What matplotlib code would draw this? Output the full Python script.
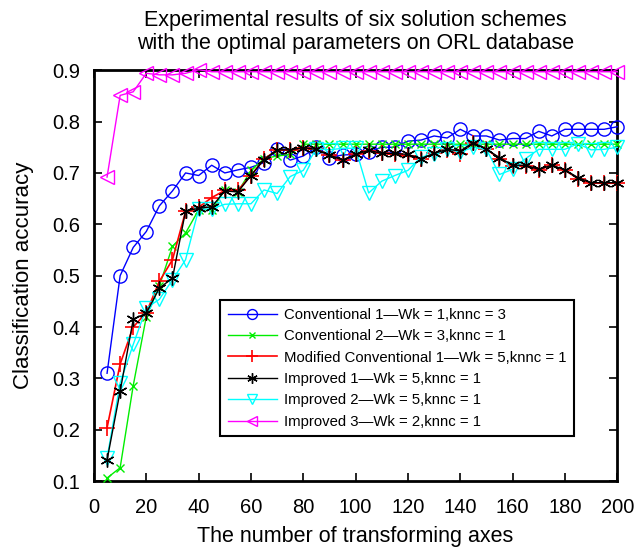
import numpy as np
import matplotlib
matplotlib.use("Agg")
import matplotlib.pyplot as plt

plt.rcParams['font.family'] = ['Liberation Sans', 'DejaVu Sans']

# number of transforming axes
axes_counts = list(range(5, 205, 5))

conventional_1 = [0.31, 0.50, 0.555, 0.586, 0.636, 0.665, 0.70, 0.695, 0.715, 0.70,
                  0.706, 0.711, 0.72, 0.746, 0.725, 0.733, 0.75, 0.73, 0.735, 0.736,
                  0.741, 0.75, 0.75, 0.762, 0.764, 0.772, 0.768, 0.785, 0.772, 0.772,
                  0.764, 0.767, 0.767, 0.781, 0.772, 0.785, 0.785, 0.785, 0.785, 0.79]

conventional_2 = [0.106, 0.126, 0.286, 0.42, 0.48, 0.557, 0.583, 0.628, 0.628, 0.667,
                  0.663, 0.705, 0.728, 0.733, 0.736, 0.756, 0.756, 0.756, 0.756, 0.756,
                  0.756, 0.756, 0.756, 0.756, 0.756, 0.756, 0.756, 0.756, 0.756, 0.756,
                  0.756, 0.756, 0.756, 0.756, 0.756, 0.756, 0.756, 0.756, 0.756, 0.756]

modified_conventional_1 = [0.204, 0.328, 0.40, 0.428, 0.489, 0.531, 0.625, 0.633, 0.652, 0.666,
                           0.666, 0.695, 0.727, 0.745, 0.745, 0.748, 0.746, 0.735, 0.725, 0.736,
                           0.743, 0.738, 0.736, 0.733, 0.728, 0.738, 0.745, 0.737, 0.759, 0.746,
                           0.728, 0.713, 0.713, 0.706, 0.715, 0.705, 0.689, 0.68, 0.68, 0.68]

improved_1 = [0.141, 0.275, 0.415, 0.427, 0.476, 0.495, 0.626, 0.631, 0.634, 0.665,
              0.663, 0.695, 0.726, 0.745, 0.745, 0.749, 0.746, 0.735, 0.725, 0.736,
              0.744, 0.738, 0.738, 0.736, 0.728, 0.738, 0.746, 0.743, 0.759, 0.746,
              0.730, 0.715, 0.715, 0.707, 0.715, 0.706, 0.691, 0.681, 0.681, 0.681]

improved_2 = [0.145, 0.291, 0.366, 0.437, 0.454, 0.492, 0.531, 0.629, 0.63, 0.639,
              0.640, 0.640, 0.667, 0.660, 0.693, 0.705, 0.747, 0.745, 0.748, 0.748,
              0.661, 0.684, 0.695, 0.705, 0.731, 0.736, 0.746, 0.741, 0.75, 0.746,
              0.697, 0.707, 0.728, 0.746, 0.746, 0.746, 0.757, 0.745, 0.746, 0.75]

improved_3 = [0.692, 0.851, 0.858, 0.894, 0.891, 0.891, 0.894, 0.901, 0.897, 0.897,
              0.897, 0.897, 0.897, 0.897, 0.897, 0.897, 0.897, 0.897, 0.897, 0.897,
              0.897, 0.897, 0.897, 0.897, 0.897, 0.897, 0.897, 0.897, 0.897, 0.897,
              0.897, 0.897, 0.897, 0.897, 0.897, 0.897, 0.897, 0.897, 0.897, 0.897]

series_labels = [
    "Conventional 1\u2014Wk = 1,knnc = 3",
    "Conventional 2\u2014Wk = 3,knnc = 1",
    "Modified Conventional 1\u2014Wk = 5,knnc = 1",
    "Improved 1\u2014Wk = 5,knnc = 1",
    "Improved 2\u2014Wk = 5,knnc = 1",
    "Improved 3\u2014Wk = 2,knnc = 1",
]

x_ticks = [0, 20, 40, 60, 80, 100, 120, 140, 160, 180, 200]
y_ticks = [0.1, 0.2, 0.3, 0.4, 0.5, 0.6, 0.7, 0.8, 0.9]

fig = plt.figure(figsize=(6.35, 5.53), dpi=100)
ax = fig.add_axes([0.148, 0.130, 0.824, 0.743])

styles = [
    dict(color='#0000ff', marker='o', markersize=9.5, mfc='none', mew=1.0, lw=1.0),
    dict(color='#00ee00', marker='x', markersize=5.5, mew=1.0, lw=1.0),
    dict(color='#ff0000', marker='+', markersize=11, mew=1.2, lw=1.2),
    dict(color='#000000', marker=(6, 2, 0), markersize=10, mew=1.0, lw=1.0),
    dict(color='#00ffff', marker='v', markersize=10.5, mfc='none', mew=1.0, lw=1.0),
    dict(color='#ff00ff', marker='<', markersize=10.5, mfc='none', mew=1.0, lw=1.0),
]
all_series = [conventional_1, conventional_2, modified_conventional_1,
              improved_1, improved_2, improved_3]
zorders = [3, 3, 4, 6, 5, 7]

handles = []
for vals, lab, st, z in zip(all_series, series_labels, styles, zorders):
    h, = ax.plot(axes_counts, vals, label=lab, zorder=z, clip_on=False, **st)
    handles.append(h)

ax.set_xlim(0, 200)
ax.set_ylim(0.1, 0.9)
ax.set_xticks(x_ticks)
ax.set_yticks(y_ticks)
ax.set_yticklabels([f"{v:.1f}" for v in y_ticks])
ax.tick_params(direction='in', length=6, width=1.2, top=True, right=True,
               labelsize=14.5, pad=10)
ax.tick_params(axis='x', pad=12)
for sp in ax.spines.values():
    sp.set_linewidth(2.0)

ax.set_xlabel("The number of transforming axes", fontsize=15.5, labelpad=7)
ax.set_ylabel("Classification accuracy", fontsize=16, labelpad=13)
ax.set_title("Experimental results of six solution schemes\nwith the optimal parameters on ORL database",
             fontsize=15.5, pad=15, linespacing=1.15)

leg = ax.legend(handles=handles, loc='upper left', bbox_to_anchor=(0.241, 0.44),
                borderaxespad=0, fontsize=10.7, handlelength=3.3, handletextpad=0.5,
                labelspacing=0.5, fancybox=False, framealpha=1, edgecolor='black',
                borderpad=0.5, markerscale=0.75)
leg.get_frame().set_linewidth(1.5)
leg.set_zorder(10)

fig.savefig("out.png", dpi=100)
